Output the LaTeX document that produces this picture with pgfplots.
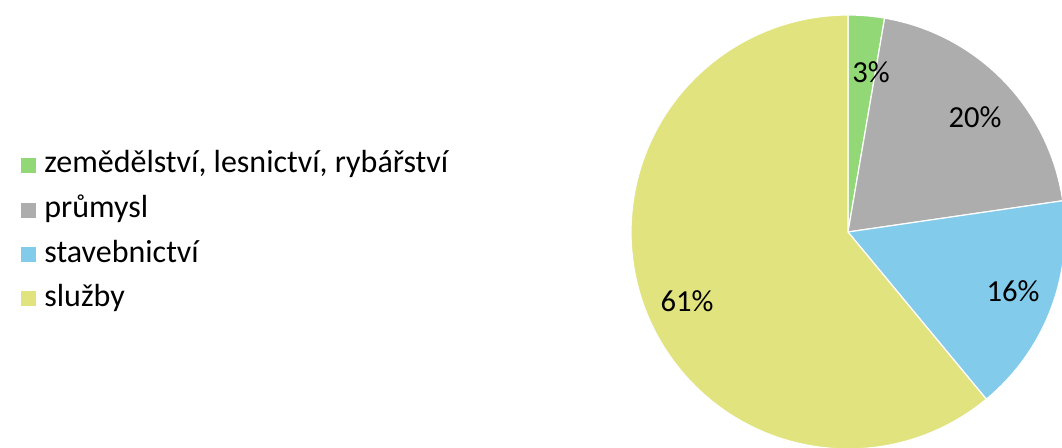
\documentclass[border=0pt]{standalone}
\usepackage{fontspec}
\setmainfont{Carlito}
\usepackage{pgfplots}
\pgfplotsset{compat=1.18}
\usetikzlibrary{calc}
\definecolor{cAgri}{RGB}{146,216,118}
\definecolor{cInd}{RGB}{173,173,173}
\definecolor{cCon}{RGB}{131,203,235}
\definecolor{cSer}{RGB}{225,227,127}
\begin{document}
\begin{tikzpicture}
% 1 unit = 1 px of the reference (0.5pt)
\useasboundingbox (0,0) rectangle (531pt,224pt);
\clip (0,0) rectangle (531pt,224pt);
\begin{axis}[
  at={(0,0)}, anchor=south west,
  scale only axis, width=531pt, height=224pt,
  xmin=0, xmax=1062, ymin=0, ymax=448,
  hide axis, clip=false,
]
% shares in percent, clockwise from 12 o'clock
\pgfplotsextra{
  \def\rad{108.5pt}
  \gdef\cum{0}
  \foreach \v/\col in {2.7/cAgri, 20.0/cInd, 16.3/cCon, 61.0/cSer}{
    \pgfmathsetmacro{\aS}{90-3.6*\cum}
    \pgfmathsetmacro{\aE}{90-3.6*(\cum+\v)}
    \fill[\col, draw=white, line width=0.6pt]
      (axis cs:848,216) -- ($(axis cs:848,216)+(\aS:\rad)$)
      arc[start angle=\aS, end angle=\aE, radius=\rad] -- cycle;
    \pgfmathsetmacro{\newcum}{\cum+\v}
    \global\let\cum\newcum
  }
  % data labels
  \begin{scope}[font=\fontsize{15.3}{18}\selectfont, anchor=base]
  \node at (axis cs:871,365) {3\%};
  \node at (axis cs:975,320.3) {20\%};
  \node at (axis cs:1013,146.3) {16\%};
  \node at (axis cs:687,136.3) {61\%};
  \end{scope}
  % legend
  \begin{scope}[font=\fontsize{16}{18}\selectfont]
  \foreach \y/\col/\t in {275/cAgri/{zemědělství, lesnictví, rybářství},
                          230/cInd/{průmysl},
                          185.5/cCon/{stavebnictví},
                          141.5/cSer/{služby}}{
    \fill[\col] (axis cs:21,\y) rectangle (axis cs:36,\y+15);
    \node[anchor=base west, inner sep=0pt] at (axis cs:44,\y) {\t};
  }
  \end{scope}
}
\end{axis}
\end{tikzpicture}
\end{document}
